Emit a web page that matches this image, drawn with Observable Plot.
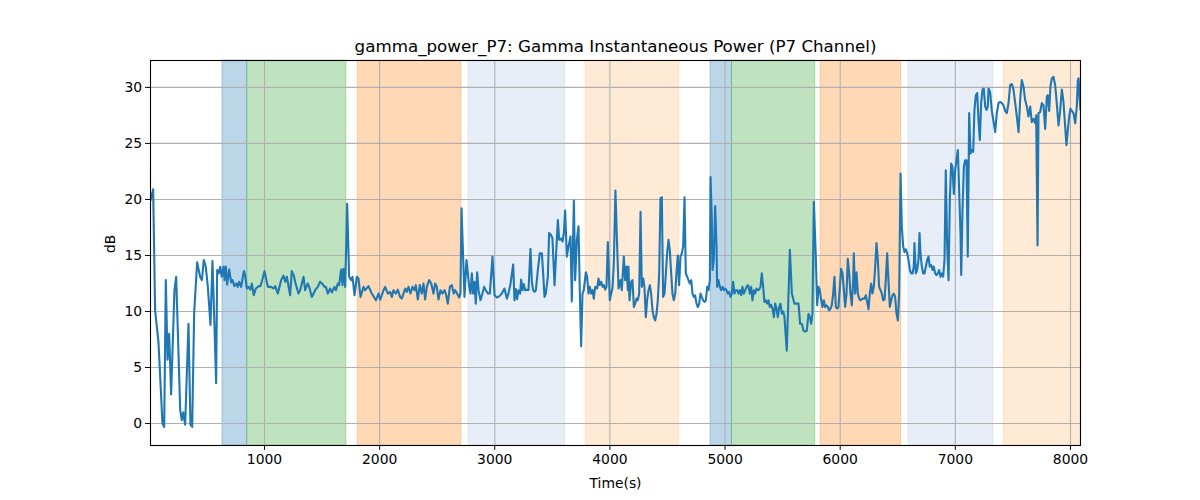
<!DOCTYPE html>
<html>
<head>
<meta charset="utf-8">
<script src="https://cdn.jsdelivr.net/npm/d3@7"></script>
<script src="https://cdn.jsdelivr.net/npm/@observablehq/plot@0.6"></script>
<style>
  body { margin: 0; background: #fff; }
  #chart svg { font-family: "DejaVu Sans", sans-serif; }
</style>
</head>
<body>
<div id="chart"></div>
<script>
const titleText = "gamma_power_P7: Gamma Instantaneous Power (P7 Channel)";
const xLabel = "Time(s)";
const yLabel = "dB";
const xTicks = [1000, 2000, 3000, 4000, 5000, 6000, 7000, 8000];
const yTicks = [0, 5, 10, 15, 20, 25, 30];

const times = [
  10,33,50,79,114,129,143,158,172,189,218,233,268,282,294,311,340,357,372,389,415,441,456,473,490,508,531,548,566,580,589,601,615,629,644,653,664,676,693,711,722,739,757,768,780,797,821,832,847,861,878,890,907,925,948,965,983,1000,1029,
  1058,1078,1093,1116,1145,1165,1180,1194,1223,1237,1255,1266,1295,1310,1339,1353,1376,1388,1411,1440,1463,1483,1504,1521,1533,1550,1570,1585,1608,1620,1637,1648,1666,1677,1686,1701,1718,1735,1753,1764,1782,1802,1816,1834,1860,1874,1903,1932,1967,1990,2005,2034,2048,2071,
  2091,2106,2120,2141,2158,2178,2193,2207,2222,2236,2251,2268,2285,2303,2314,2332,2349,2366,2381,2395,2410,2430,2448,2468,2482,2497,2511,2529,2546,2563,2575,2592,2610,2627,2644,2656,2673,2691,2702,2711,2725,2737,2754,2766,2778,2789,2801,2812,2824,2835,2847,2859,2876,2893,2908,2922,2940,2957,2980,2998,3018,3038,3061,3084,3105,
  3119,3137,3160,3171,3183,3194,3206,3220,3229,3241,3252,3264,3278,3293,3310,3322,3333,3345,3357,3374,3391,3409,3420,3432,3443,3461,3472,3490,3501,3519,3536,3548,3559,3577,3588,3600,3611,3626,3640,3658,3669,3687,3698,3713,3727,3739,3750,3762,3773,3791,3802,3814,3826,3837,3849,3860,3872,3889,3901,3912,3924,3936,3947,3959,3970,3982,3999,4011,4022,4034,4048,4063,4075,4092,4103,4121,4132,4144,4156,
  4161,4170,4185,4196,4208,4219,4231,4242,4254,4266,4277,4289,4300,4312,4323,4335,4347,4358,4370,4381,4393,4405,4416,4428,4439,4451,4462,4474,4486,4497,4509,4520,4532,4543,4555,4567,4578,4590,4601,4613,4625,4636,4648,4659,4671,4682,4694,4706,4717,4729,4740,4752,4764,4775,4787,4798,4810,4821,4833,4845,4856,4868,4874,4885,4891,4902,4914,4926,4931,4943,4955,4966,4978,4989,5001,5012,5024,5036,5047,5059,5070,5082,5094,5105,5117,5128,5140,5151,5163,5175,5186,5198,
  5204,5215,5227,5238,5250,5261,5273,5285,5296,5308,5319,5331,5342,5354,5366,5377,5389,5400,5412,5424,5435,5447,5458,5470,5481,5493,5505,5516,5536,5563,5580,5603,5623,5638,5652,5667,5681,5696,5710,5725,5736,5748,5759,5771,5788,5800,5812,5823,5835,5846,5858,5869,5881,5893,5904,5916,5927,5939,5950,5962,5974,5985,5997,6008,6020,6032,6043,6055,6066,6078,6089,6101,6113,6118,6130,6142,6153,6165,6176,6194,6211,6223,6240,
  6246,6257,6269,6280,6292,6304,6315,6327,6338,6350,6362,6373,6385,6396,6408,6419,6431,6443,6454,6466,6477,6489,6501,6512,6524,6535,6547,6558,6570,6582,6593,6605,6616,6628,6639,6645,6657,6668,6680,6689,6697,6709,6721,6732,6744,6755,6767,6778,6790,6802,6813,6825,6836,6848,6859,6871,6883,6894,6906,6917,6929,6941,6952,6964,6975,6987,6998,7010,7022,7033,7045,7051,7062,7074,7085,7097,7108,7120,7132,7143,7155,7166,7178,7190,7201,7213,7224,7236,7247,7259,7271,7282,
  7288,7302,7317,7331,7346,7360,7375,7389,7404,7418,7433,7447,7462,7476,7491,7505,7520,7534,7549,7563,7577,7592,7606,7621,7635,7650,7664,7679,7693,7702,7714,7722,7737,7751,7766,7780,7795,7803,7815,7826,7838,7852,7867,7881,7896,7910,7925,7939,7954,7965,7977,7989,8000,8012,8026,8041,8055,8064,8070,8078,8087
];

const powerDb = [
  19.9,20.9,10.1,7.3,0.0,-0.3,12.8,5.7,8.0,2.6,11.9,13.1,1.2,0.3,1.0,-0.1,8.9,-0.1,-0.3,9.8,14.4,13.1,12.8,14.6,14.0,12.2,8.8,14.5,8.6,3.6,13.7,13.4,14.0,13.1,14.0,12.8,14.0,12.4,13.75,12.6,12.8,12.26,12.5,12.2,12.65,12.2,13.6,13.2,12.05,12.2,11.95,12.5,11.45,12.05,12.26,12.26,12.9,13.6,12.2,
  12.2,12.05,12.26,11.6,12.8,13.2,12.65,13.1,11.45,13.6,13.2,12.65,11.6,11.9,13.1,11.9,12.5,12.2,11.3,11.9,12.2,12.65,12.45,12.2,12.2,11.6,12.05,11.7,12.2,11.9,12.5,12.35,13.75,12.35,13.8,12.2,19.6,13.1,12.8,13.1,11.45,13.1,12.95,11.3,12.2,11.9,12.26,11.6,11.0,11.6,11.05,11.9,12.2,11.6,
  11.75,11.3,11.9,11.6,11.95,11.3,11.15,11.6,12.05,11.75,12.2,11.6,12.2,11.9,12.35,11.07,12.35,11.6,12.5,11.07,12.2,12.8,12.5,11.6,12.5,12.2,11.07,11.9,11.6,11.9,11.6,10.7,12.2,12.35,11.6,11.9,11.6,11.25,11.6,19.2,14.9,11.3,14.6,13.4,12.2,11.6,13.4,11.6,12.65,10.7,13.5,11.9,11.0,11.6,12.2,11.9,11.6,11.6,14.9,11.45,11.25,11.35,11.6,12.05,11.15,
  11.6,12.5,14.2,11.0,12.0,11.1,11.9,11.6,12.85,11.9,12.45,11.9,11.95,11.9,15.6,12.65,11.9,11.75,11.9,13.7,15.2,15.2,13.4,11.3,11.6,13.1,17.0,16.8,16.5,12.35,15.8,18.15,16.4,16.5,16.25,17.0,19.0,14.9,15.8,16.7,10.9,19.9,12.8,16.4,17.6,11.6,6.9,11.6,11.9,13.5,13.1,11.6,12.2,11.6,11.9,11.15,12.2,12.05,12.95,12.35,12.65,12.2,12.35,11.95,12.2,16.2,11.0,11.6,12.05,14.3,20.8,15.8,12.05,12.8,11.9,14.9,12.8,14.0,11.9,
  14.0,11.0,12.65,12.8,10.4,10.7,11.15,11.0,11.6,18.9,12.2,12.95,12.2,9.5,11.0,11.9,12.35,11.6,10.1,9.5,9.2,9.8,11.0,13.4,20.1,20.2,11.3,11.6,13.4,15.2,16.4,15.5,13.4,11.6,11.0,11.6,13.4,15.0,12.35,14.9,15.2,15.8,20.2,13.4,13.1,12.8,12.5,12.8,11.6,11.3,11.45,10.7,10.4,10.7,11.6,11.3,11.0,10.85,11.0,12.2,11.9,12.8,22.0,18.15,13.7,14.6,19.4,15.8,12.2,12.8,12.2,11.9,12.2,11.9,12.05,11.9,11.6,11.75,11.3,11.6,12.65,11.6,11.9,11.9,11.6,11.9,11.45,12.2,11.6,11.9,12.2,12.35,
  12.2,11.6,12.2,11.0,11.9,11.6,12.05,11.9,11.95,12.2,13.4,12.2,10.85,11.0,10.7,11.0,10.4,10.6,10.25,9.5,10.7,10.25,9.5,10.4,10.7,9.8,10.0,9.5,6.5,15.5,11.6,10.7,10.7,10.7,8.9,8.9,8.3,8.2,8.3,9.8,9.5,8.9,9.8,19.8,14.9,10.55,12.2,11.9,11.0,10.4,11.0,10.4,10.55,10.4,10.1,10.25,10.55,11.6,13.1,10.4,10.25,10.4,12.2,13.8,13.4,11.9,10.4,11.6,14.7,13.4,11.6,10.55,12.8,15.2,11.6,13.5,11.6,11.15,11.0,11.15,11.15,11.45,10.55,
  10.2,11.6,12.5,11.6,12.2,14.0,16.1,14.6,12.2,11.9,11.6,11.0,11.07,12.8,15.2,12.8,10.4,11.0,11.45,11.6,11.3,9.8,9.2,11.6,22.3,17.6,15.8,15.3,15.55,15.2,14.6,13.7,13.4,13.4,14.0,16.1,13.4,13.7,14.6,17.0,15.2,14.0,13.4,13.4,14.0,14.6,14.9,14.0,14.15,13.7,14.0,13.4,13.25,13.4,13.7,13.1,13.4,13.1,14.6,22.6,15.8,12.8,19.9,23.2,22.9,20.5,22.6,23.5,24.4,20.8,16.9,13.25,19.0,22.9,23.5,23.5,14.9,27.7,24.1,24.4,24.25,28.0,29.3,29.5,27.1,25.3,28.6,29.8,29.9,28.3,28.0,28.3,
  29.9,29.6,27.9,27.0,26.0,27.7,28.6,28.7,28.6,28.4,27.9,27.7,28.6,30.2,30.3,29.8,28.6,27.4,26.0,28.9,30.65,30.06,28.9,28.3,27.4,28.3,26.9,27.2,26.8,27.5,15.9,27.7,27.8,28.6,28.4,26.3,29.2,29.3,27.9,30.1,30.8,30.95,30.2,28.6,26.6,27.9,29.8,28.7,26.5,24.85,26.2,27.4,28.1,27.9,27.7,26.8,28.3,30.65,30.8,29.2,28.0
];

const bandStarts = [635, 850, 1810, 2772, 3788, 4874, 5060, 5829, 6593, 7419];
const bandEnds   = [850, 1711, 2710, 3612, 4604, 5060, 5783, 6530, 7331, 8087];
const bandColors = ["#1f77b4", "#2ca02c", "#ff7f0e", "#aec7e8", "#ffbb78", "#1f77b4", "#2ca02c", "#ff7f0e", "#aec7e8", "#ffbb78"];

const series = times.map((t, i) => ({t, v: powerDb[i]}));
const bands = bandStarts.map((s, i) => ({start: s, end: bandEnds[i], color: bandColors[i]}));

const chart = Plot.plot({
  width: 1200,
  height: 500,
  marginLeft: 150,
  marginRight: 120,
  marginTop: 60,
  marginBottom: 55,
  style: {fontFamily: "'DejaVu Sans', sans-serif", fontSize: "13.9px", background: "#fff", color: "#000", overflow: "visible"},
  x: {domain: [10, 8087]},
  y: {domain: [-1.96, 32.4]},
  color: {type: "identity"},
  marks: [
    Plot.rect(bands, {x1: "start", x2: "end", fill: "color", fillOpacity: 0.3, stroke: "color", strokeOpacity: 0.3, strokeWidth: 1}),
    Plot.gridX(xTicks, {stroke: "#b0b0b0", strokeOpacity: 1, strokeWidth: 1.1}),
    Plot.gridY(yTicks, {stroke: "#b0b0b0", strokeOpacity: 1, strokeWidth: 1.1}),
    Plot.line(series, {x: "t", y: "v", stroke: "#1f77b4", strokeWidth: 2.1, clip: true}),
    Plot.frame({stroke: "#000", strokeWidth: 1.1}),
    Plot.axisX(xTicks, {tickSize: 4.9, tickPadding: 3.5, fontSize: 13.9, label: null, tickFormat: d => String(d)}),
    Plot.axisY(yTicks, {tickSize: 4.9, tickPadding: 3.5, fontSize: 13.9, label: null, tickFormat: d => String(d)}),
    Plot.text([titleText], {text: d => d, frameAnchor: "top", dy: -20, fontSize: 16.7}),
    Plot.text([xLabel], {text: d => d, frameAnchor: "bottom", dy: 42, fontSize: 13.9}),
    Plot.text([yLabel], {text: d => d, frameAnchor: "left", dx: -40, rotate: -90, fontSize: 13.9})
  ]
});
document.getElementById("chart").appendChild(chart);
</script>
</body>
</html>
